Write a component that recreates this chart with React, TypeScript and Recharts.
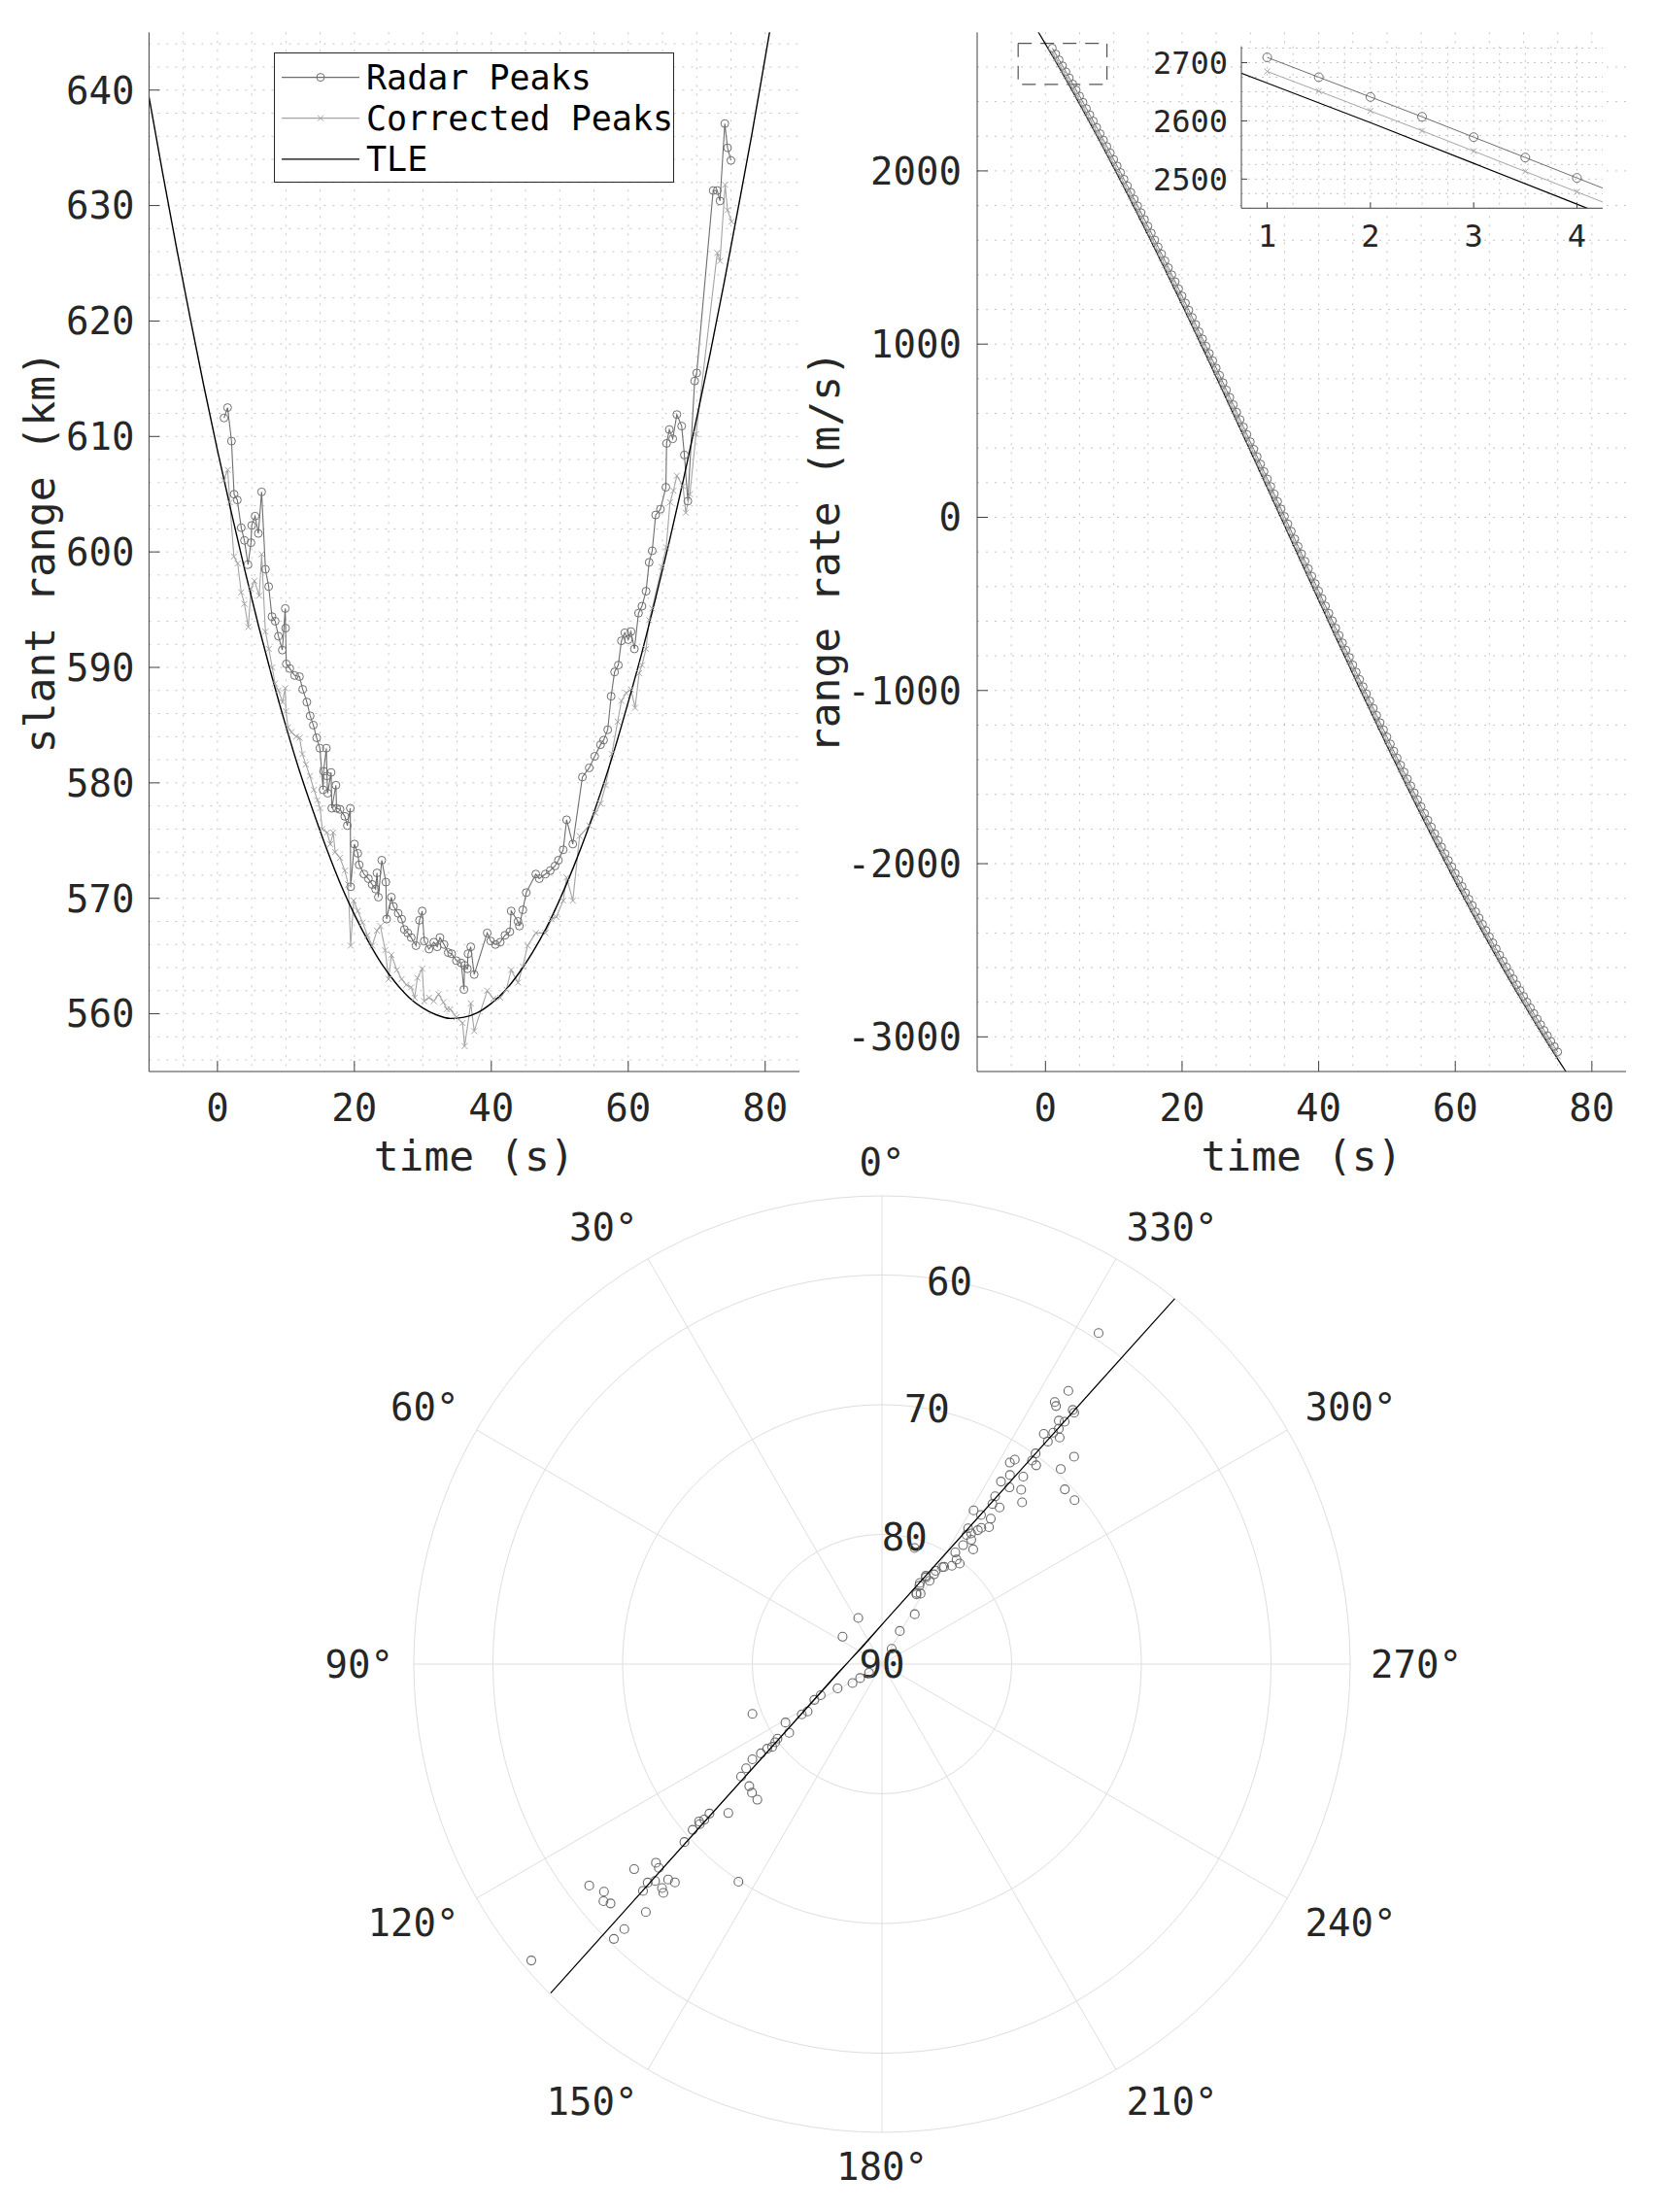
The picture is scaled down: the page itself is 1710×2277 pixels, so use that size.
import React from 'react'
import {
  LineChart, Line, XAxis, YAxis, CartesianGrid, Legend, ReferenceArea,
  RadarChart, Radar, PolarGrid, PolarAngleAxis, PolarRadiusAxis,
} from 'recharts'

const FONT = '"DejaVu Sans Mono", monospace'
const INK = '#262626'
const AXIS = '#404040'
const GRID = '#c4c4c4'
const RADAR_C = '#6e6e6e'
const CORR_C = '#a4a4a4'

// ---- slant range (km) ----
const radarT = [0.96,1.48,2.05,2.43,2.9,3.47,3.94,4.46,4.9,5.0,5.5,5.97,6.45,7.01,7.48,7.96,8.43,8.9,9.47,9.9,
  9.95,10.05,10.56,11.27,11.98,12.45,13.06,13.54,14.0,14.49,14.96,15.43,15.5,15.9,16.0,16.1,16.6,16.7,17.3,17.4,
  17.9,18.6,18.97,19.4,19.45,20.0,20.5,20.7,21.4,22.05,22.6,23.1,23.3,23.5,24.0,24.6,24.7,25.4,25.7,26.4,
  26.9,27.3,27.8,28.3,29.0,29.5,29.9,30.2,30.9,31.6,32.1,32.5,33.1,33.7,34.2,34.9,35.6,36.0,36.1,36.5,
  36.6,37.0,37.5,39.4,39.9,40.6,41.3,42.0,42.7,42.9,43.9,44.1,44.6,45.1,46.5,47.0,47.9,48.6,49.3,49.8,
  50.5,51.0,51.9,53.3,54.3,55.1,55.95,56.4,57.0,57.5,58.0,58.55,59.0,59.5,60.0,60.4,60.9,61.5,62.0,62.6,
  63.05,63.5,64.0,64.7,65.5,65.6,66.0,66.5,67.1,67.8,68.2,68.7,69.7,70.0,72.4,73.0,73.4,74.1,74.5,75.0]
const radarRange = [611.6,612.5,609.6,605.0,604.5,602.1,601.0,598.9,600.8,602.3,603.1,601.6,605.2,598.5,597.0,594.4,594.0,592.7,591.5,595.1,
  593.4,590.3,589.9,589.3,589.2,588.1,587.0,585.8,585.0,583.9,583.0,579.4,581.0,583.0,580.6,579.1,580.9,577.8,579.8,577.8,
  577.7,577.1,576.3,577.8,571.0,574.7,573.9,572.9,572.1,571.7,571.2,570.8,572.2,570.1,573.3,571.4,568.2,570.1,569.3,568.7,
  568.2,567.3,567.0,566.6,565.9,568.1,568.9,566.3,565.6,566.2,565.8,566.6,566.0,565.3,565.2,564.6,564.4,562.1,564.2,563.9,
  565.2,565.8,563.4,567.0,566.3,566.0,566.2,566.8,567.1,568.9,568.0,567.6,569.0,570.5,572.1,571.7,572.1,572.4,572.8,573.3,
  574.2,576.8,574.7,580.5,581.3,582.3,583.3,583.7,584.6,587.5,589.6,590.2,592.3,593.0,592.4,593.1,591.6,594.7,595.3,596.6,
  599.1,600.1,603.2,603.7,605.6,609.4,610.6,609.8,611.9,610.9,608.4,604.4,614.8,615.5,631.3,631.3,630.4,637.1,635.0,633.9]

const corrT = [0.9,1.5,1.8,2.4,2.95,3.47,3.94,4.5,4.9,5.4,6.1,6.45,7.0,7.5,8.0,8.4,8.9,9.5,9.9,10.0,
  10.3,10.8,11.5,12.0,12.4,12.9,13.5,14.1,14.6,15.0,15.3,16.0,16.5,16.9,17.2,17.9,18.6,19.1,19.45,19.9,
  20.5,21.2,21.9,22.6,23.3,23.8,24.5,25.0,25.4,26.2,26.9,27.6,28.3,28.8,29.2,29.9,30.2,30.9,31.6,32.3,
  33.0,33.5,34.0,34.9,35.8,36.1,37.0,37.5,39.4,40.3,41.3,42.2,42.9,43.9,44.6,45.3,46.5,47.9,48.8,49.5,
  50.5,51.0,51.9,52.9,54.3,55.2,55.95,56.7,57.6,58.45,59.0,59.7,60.4,61.0,61.6,62.0,62.6,63.05,63.5,64.9,
  65.55,66.1,66.6,67.1,68.0,68.4,69.0,69.9,73.0,73.4,74.15,74.5,75.1]
const corrRange = [606.2,607.1,604.3,599.6,599.0,596.5,595.5,593.5,596.8,597.5,596.2,599.8,593.1,591.6,590.0,588.6,588.0,587.0,588.2,586.2,
  584.8,584.4,584.0,583.9,582.5,581.6,580.6,579.4,578.5,577.8,576.0,575.7,574.7,575.7,574.0,573.5,572.4,571.2,565.9,569.8,
  568.9,567.9,566.8,565.9,567.2,567.6,565.5,563.0,565.1,563.8,563.0,562.5,562.3,561.4,563.1,563.9,561.1,561.4,561.1,561.7,
  561.0,560.4,560.4,559.7,559.2,557.2,560.9,558.5,562.0,561.3,561.4,562.1,563.8,562.7,564.1,565.9,567.0,567.0,568.2,568.4,
  569.8,571.8,569.8,575.4,576.3,577.4,578.2,579.8,582.5,585.3,587.1,587.8,588.1,586.5,589.5,590.2,591.6,594.1,595.1,598.7,
  600.4,604.3,605.3,606.6,605.7,603.4,605.0,610.2,625.9,625.2,631.8,629.6,628.6]

const tleT = [-10,-8,-6,-4,-2,0,2,4,6,8,10,12,14,16,18,20,22,24,26,28,30,32,34,36,38,40,42,44,46,48,
  50,52,54,56,58,60,62,64,66,68,70,72,74,76,78,80,82]
const tleRange = [639.4,632.8,626.4,620.3,614.4,608.8,603.5,598.4,593.6,589.1,584.9,581.0,577.5,574.2,571.2,568.6,566.3,564.3,562.7,561.4,
  560.5,559.9,559.6,559.7,560.1,560.9,562.0,563.5,565.3,567.4,569.9,572.7,575.8,579.2,582.9,587.0,591.3,596.0,600.9,606.1,
  611.6,617.3,623.3,629.6,636.0,642.8,649.7]

// ---- range rate (m/s) ----
const rrT = [1,1.5,2,2.5,3,3.5,4,4.5,5,5.5,6,6.5,7,7.5,8,8.5,9,9.5,10,10.5,
  11,11.5,12,12.5,13,13.5,14,14.5,15,15.5,16,16.5,17,17.5,18,18.5,19,19.5,20,20.5,
  21,21.5,22,22.5,23,23.5,24,24.5,25,25.5,26,26.5,27,27.5,28,28.5,29,29.5,30,30.5,
  31,31.5,32,32.5,33,33.5,34,34.5,35,35.5,36,36.5,37,37.5,38,38.5,39,39.5,40,40.5,
  41,41.5,42,42.5,43,43.5,44,44.5,45,45.5,46,46.5,47,47.5,48,48.5,49,49.5,50,50.5,
  51,51.5,52,52.5,53,53.5,54,54.5,55,55.5,56,56.5,57,57.5,58,58.5,59,59.5,60,60.5,
  61,61.5,62,62.5,63,63.5,64,64.5,65,65.5,66,66.5,67,67.5,68,68.5,69,69.5,70,70.5,
  71,71.5,72,72.5,73,73.5,74,74.5,75]
const rrRadar = [2709,2675,2641,2607,2572,2537,2502,2467,2432,2396,2360,2324,2288,2251,2215,2178,2141,2104,2066,2028,
  1991,1952,1914,1876,1837,1798,1759,1719,1681,1641,1601,1561,1521,1481,1441,1400,1360,1319,1278,1237,
  1196,1154,1113,1071,1030,988,946,904,862,820,777,735,692,650,607,564,521,478,436,393,
  350,307,264,221,178,134,91,48,5,-38,-81,-125,-168,-211,-254,-297,-340,-383,-426,-469,
  -512,-554,-597,-640,-682,-725,-767,-809,-852,-894,-936,-978,-1019,-1061,-1103,-1144,-1186,-1227,-1268,-1309,
  -1350,-1390,-1431,-1471,-1511,-1551,-1591,-1631,-1671,-1710,-1749,-1788,-1827,-1866,-1904,-1942,-1981,-2018,-2056,-2094,
  -2131,-2168,-2205,-2241,-2278,-2314,-2350,-2386,-2422,-2457,-2492,-2528,-2562,-2597,-2631,-2665,-2699,-2732,-2766,-2799,
  -2832,-2865,-2897,-2929,-2962,-2993,-3025,-3056,-3087]
const rrCorr = [2685,2651,2617,2583,2548,2513,2478,2443,2408,2372,2336,2300,2264,2227,2191,2154,2117,2080,2042,2004,
  1967,1928,1890,1852,1813,1774,1735,1695,1657,1617,1577,1537,1497,1457,1417,1376,1336,1295,1254,1213,
  1172,1130,1089,1047,1006,964,922,880,838,796,753,711,668,626,583,540,497,454,412,369,
  326,283,240,197,154,110,67,24,-19,-62,-105,-149,-192,-235,-278,-321,-364,-407,-450,-493,
  -536,-578,-621,-664,-706,-749,-791,-833,-876,-918,-960,-1002,-1043,-1085,-1127,-1168,-1210,-1251,-1292,-1333,
  -1374,-1414,-1455,-1495,-1535,-1575,-1615,-1655,-1695,-1734,-1773,-1812,-1851,-1890,-1928,-1966,-2005,-2042,-2080,-2118,
  -2155,-2192,-2229,-2265,-2302,-2338,-2374,-2410,-2446,-2481,-2516,-2552,-2586,-2621,-2655,-2689,-2723,-2756,-2790,-2823,
  -2856,-2889,-2921,-2953,-2986,-3017,-3049,-3080,-3111]
const rrTleT = [-2,-1,0,1,2,3,4,5,6,7,8,9,10,11,12,13,14,15,16,17,18,19,20,21,22,23,24,25,26,27,
  28,29,30,31,32,33,34,35,36,37,38,39,40,41,42,43,44,45,46,47,48,49,50,51,52,53,54,55,56,57,
  58,59,60,61,62,63,64,65,66,67,68,69,70,71,72,73,74,75,76,77]
const rrTle = [2865,2799,2732,2665,2597,2527,2457,2386,2314,2241,2168,2094,2018,1942,1866,1788,1710,1631,1551,1471,
  1390,1309,1227,1144,1061,978,894,809,725,640,554,469,383,297,211,125,38,-48,-135,-221,
  -307,-393,-479,-564,-650,-735,-819,-904,-988,-1071,-1154,-1237,-1319,-1400,-1481,-1561,-1641,-1720,-1798,-1876,
  -1952,-2028,-2104,-2178,-2251,-2324,-2396,-2467,-2537,-2607,-2675,-2742,-2809,-2875,-2939,-3003,-3066,-3128,-3189,-3250]

// ---- sky track (azimuth / elevation, deg) ----
const peakAz = [326.8,325.7,326.6,326.0,323.1,322.6,324.0,323.0,323.1,324.9,323.5,321.9,323.3,323.9,317.2,323.6,322.2,317.5,327.6,327.0,
  325.9,323.0,326.9,324.2,321.4,313.7,319.1,310.4,326.0,325.4,323.1,329.2,326.4,323.2,322.0,324.4,327.6,326.8,324.3,321.5,
  326.7,344.3,322.3,324.6,327.4,330.1,333.6,335.0,334.2,328.1,333.2,334.5,333.7,326.7,331.7,327.7,27.2,55.2,123.8,122.6,
  122.7,118.6,122.5,122.1,121.2,111.0,126.2,126.4,126.4,126.3,127.5,128.6,132.6,134.7,137.4,134.1,130.9,130.7,131.2,132.0,
  131.3,132.4,129.6,133.0,133.7,133.5,135.5,135.2,136.5,136.3,146.6,136.4,127.1,129.3,130.4,131.4,135.8,135.7,130.2,
  323.9,325.7,325.7,324.5,329.9,330.3,331.3,125.5,126.5,127.0,131.3,131.2,116.9,117.9]
const peakEl = [59.5,64.5,65.8,66.0,65.5,65.6,66.8,66.6,67.3,68.3,67.8,67.8,68.6,69.9,68.2,70.5,70.6,69.6,71.6,71.2,
  72.4,71.9,73.2,73.2,72.8,70.5,73.5,70.5,74.4,75.0,74.9,76.2,76.2,76.0,76.6,77.3,77.6,78.1,78.2,78.7,
  79.7,80.7,80.2,80.7,81.1,81.7,82.4,83.1,83.9,81.2,82.5,83.3,84.0,85.4,87.1,88.6,86.0,86.3,88.8,88.0,
  87.3,86.1,83.2,82.7,81.3,79.3,79.8,79.0,78.4,77.6,76.8,76.1,76.1,75.9,75.8,73.5,72.4,71.4,70.6,69.5,
  66.8,66.7,65.2,65.3,65.8,64.6,65.8,66.6,66.8,65.6,69.9,63.6,61.7,62.3,61.8,62.1,61.5,60.4,54.6,
  77.0,77.8,78.9,80.1,82.0,82.6,83.8,80.1,81.1,79.4,71.3,71.8,84.7,84.1]
const tleAz = [321.3,322.4,324.5,330.8,351.6,48.1,102.8,125.0,131.5,133.7,134.8]
const tleEl = [53.9,62.9,71.8,80.7,86.3,88.0,86.4,80.9,72.0,63.0,54.0]

// ---- ticks / grid values ----
const timeTicks = [0, 20, 40, 60, 80]
const timeMinor = [-5,0,5,10,15,20,25,30,35,40,45,50,55,60,65,70,75,80]
const rangeTicks = [560, 570, 580, 590, 600, 610, 620, 630, 640]
const rangeMinor = [556,558,560,562,564,566,568,570,572,574,576,578,580,582,584,586,588,590,592,594,596,598,600,
  602,604,606,608,610,612,614,616,618,620,622,624,626,628,630,632,634,636,638,640,642,644]
const rateTicks = [-3000, -2000, -1000, 0, 1000, 2000]
const rateMinor = [-3000,-2800,-2600,-2400,-2200,-2000,-1800,-1600,-1400,-1200,-1000,-800,-600,-400,-200,0,
  200,400,600,800,1000,1200,1400,1600,1800,2000,2200,2400,2600]
const insetXTicks = [1, 2, 3, 4]
const insetXMinor = [1,1.25,1.5,1.75,2,2.25,2.5,2.75,3,3.25,3.5,3.75,4]
const insetYTicks = [2500, 2600, 2700]
const insetYMinor = [2475,2500,2525,2550,2575,2600,2625,2650,2675,2700,2725]
const angleTicks = [0, 30, 60, 90, 120, 150, 180, 210, 240, 270, 300, 330]
const zenTicks = [0, 10, 20, 30, 36.1]
const zenMax = 36.1
const zoomBox = { x1: -4, x2: 9, y1: 2500, y2: 2737 }
const legendOrder = ['Radar Peaks', 'Corrected Peaks', 'TLE']

const rows = (ts: number[], vs: number[]) => ts.map((t, i) => ({ t, v: vs[i] }))
const slantRadar = rows(radarT, radarRange)
const slantCorr = rows(corrT, corrRange)
const slantTle = rows(tleT, tleRange)
const rateRadar = rows(rrT, rrRadar)
const rateCorr = rows(rrT, rrCorr)
const rateTle = rows(rrTleT, rrTle)
const insetRadar = rateRadar.filter(d => d.t <= 4.5)
const insetCorr = rateCorr.filter(d => d.t <= 4.5)
const insetTle = rateTle.filter(d => d.t >= 0 && d.t <= 5)
const skyPeaks = peakAz.map((az, i) => ({ az, zen: 90 - peakEl[i] }))
const skyTle = tleAz.map((az, i) => ({ az, zen: 90 - tleEl[i] }))

const tickFont = { fill: INK, fontSize: 39, fontFamily: FONT }
const insetFont = { fill: INK, fontSize: 32, fontFamily: FONT }
const circleDot = { r: 4, stroke: RADAR_C, strokeWidth: 1, fill: 'none' }

function XMark(props: any) {
  const { cx, cy } = props
  if (cx == null || cy == null || isNaN(cx) || isNaN(cy)) return null
  const s = 3
  return <path d={`M${cx - s},${cy - s}L${cx + s},${cy + s}M${cx - s},${cy + s}L${cx + s},${cy - s}`}
    stroke={CORR_C} strokeWidth={1} fill="none" />
}

function AxisTitle(props: any) {
  const { viewBox, caption, gap, rot } = props
  if (!viewBox) return null
  const { x, y, width, height } = viewBox
  const cx = rot ? x + gap : x + width / 2
  const cy = rot ? y + height / 2 : y + gap
  return (
    <text x={cx} y={cy} textAnchor="middle" dominantBaseline="central"
      transform={rot ? `rotate(-90 ${cx} ${cy})` : undefined}
      fontSize={43} fontFamily={FONT} fill={INK}>{caption}</text>
  )
}

const legendLook: Record<string, { stroke: string; mark: string }> = {
  'Radar Peaks': { stroke: RADAR_C, mark: 'o' },
  'Corrected Peaks': { stroke: CORR_C, mark: 'x' },
  TLE: { stroke: '#000', mark: '' },
}

function LegendBox(props: any) {
  const names = (props.payload || []).map((it: any) => it.value)
  const items = legendOrder.filter(n => names.includes(n))
  return (
    <svg width={412} height={134} style={{ display: 'block' }}>
      <rect x={0.5} y={0.5} width={411} height={133} fill="#fff" stroke={INK} strokeWidth={1} />
      {items.map((name, i) => {
        const look = legendLook[name]
        const y = 25.6 + i * 42.1
        return (
          <g key={name}>
            <line x1={8} x2={88} y1={y} y2={y} stroke={look.stroke} strokeWidth={1.2} />
            {look.mark === 'o' && <circle cx={48} cy={y} r={4} stroke={RADAR_C} fill="none" />}
            {look.mark === 'x' && <XMark cx={48} cy={y} />}
            <text x={95} y={y} dy="0.36em" fontSize={35} fontFamily={FONT} fill="#000">{name}</text>
          </g>
        )
      })}
    </svg>
  )
}

function AngleTick(props: any) {
  const { x, y, payload } = props
  const a = (payload.coordinate * Math.PI) / 180
  const c = Math.cos(a)
  const s = Math.sin(a)
  const anchor = Math.abs(c) < 0.05 ? 'middle' : c > 0 ? 'start' : 'end'
  const dy = s > 0.05 ? '0' : s < -0.05 ? '0.73em' : '0.36em'
  return <text x={x} y={y} dy={dy} textAnchor={anchor} fontSize={39} fontFamily={FONT} fill={INK}>{`${payload.value}°`}</text>
}

function RingTick(props: any) {
  const { x, y, payload } = props
  if (payload.value > 35) return <g />
  return <text x={x} y={y} dy="0.36em" textAnchor="middle" fontSize={39} fontFamily={FONT} fill={INK}>{90 - payload.value}</text>
}

export default function App() {
  return (
    <div style={{ position: 'absolute', left: 0, top: 0, width: 1710, height: 2277, background: '#fff' }}>
      {/* slant range */}
      <div style={{ position: 'absolute', left: 0, top: 0 }}>
        <LineChart width={850} height={1230} margin={{ top: 33.3, right: 27, bottom: 17, left: 0 }}>
          <CartesianGrid stroke={GRID} strokeDasharray="2 7" verticalValues={timeMinor} horizontalValues={rangeMinor} />
          <XAxis type="number" dataKey="t" domain={[-10, 85]} ticks={timeTicks} interval={0} allowDataOverflow
            height={110} tickSize={-11} tickMargin={34} stroke={AXIS} tick={tickFont}
            label={<AxisTitle caption="time (s)" gap={87} />} />
          <YAxis type="number" domain={[555, 645]} ticks={rangeTicks} interval={0} allowDataOverflow
            width={153.4} tickSize={-11} tickMargin={26} stroke={AXIS} tick={tickFont}
            label={<AxisTitle caption="slant range (km)" gap={40.6} rot />} />
          <Line data={slantRadar} dataKey="v" name="Radar Peaks" stroke={RADAR_C} strokeWidth={1.1}
            dot={circleDot} activeDot={false} isAnimationActive={false} />
          <Line data={slantCorr} dataKey="v" name="Corrected Peaks" stroke={CORR_C} strokeWidth={1.1}
            dot={<XMark />} activeDot={false} isAnimationActive={false} />
          <Line data={slantTle} dataKey="v" name="TLE" type="monotone" stroke="#000" strokeWidth={1.4}
            dot={false} activeDot={false} isAnimationActive={false} />
          <Legend layout="vertical" verticalAlign="middle" align="center" content={<LegendBox />}
            wrapperStyle={{ left: 281.6, top: 53.7, width: 412, height: 134 }} />
        </LineChart>
      </div>

      {/* range rate */}
      <div style={{ position: 'absolute', left: 820, top: 0 }}>
        <LineChart width={885} height={1230} margin={{ top: 33.3, right: 31, bottom: 17, left: 0 }}>
          <CartesianGrid stroke={GRID} strokeDasharray="2 7" verticalValues={timeMinor} horizontalValues={rateMinor} />
          <XAxis type="number" dataKey="t" domain={[-10, 85]} ticks={timeTicks} interval={0} allowDataOverflow
            height={110} tickSize={-11} tickMargin={34} stroke={AXIS} tick={tickFont}
            label={<AxisTitle caption="time (s)" gap={87} />} />
          <YAxis type="number" domain={[-3200, 2800]} ticks={rateTicks} interval={0} allowDataOverflow
            width={186} tickSize={-11} tickMargin={27} stroke={AXIS} tick={tickFont}
            label={<AxisTitle caption="range rate (m/s)" gap={29} rot />} />
          <ReferenceArea {...zoomBox} fill="none" stroke="#555" strokeWidth={1.2} strokeDasharray="14 9" ifOverflow="visible" />
          <Line data={rateRadar} dataKey="v" stroke={RADAR_C} strokeWidth={1} dot={circleDot}
            activeDot={false} isAnimationActive={false} />
          <Line data={rateCorr} dataKey="v" stroke={CORR_C} strokeWidth={1} dot={<XMark />}
            activeDot={false} isAnimationActive={false} />
          <Line data={rateTle} dataKey="v" type="monotone" stroke="#000" strokeWidth={1.2}
            dot={false} activeDot={false} isAnimationActive={false} />
        </LineChart>
      </div>

      {/* zoomed inset */}
      <div style={{ position: 'absolute', left: 1180, top: 30 }}>
        <LineChart width={480} height={260} margin={{ top: 17.7, right: 10, bottom: 30, left: 0 }}>
          <CartesianGrid stroke={GRID} strokeDasharray="2 5" fill="#fff" fillOpacity={1}
            verticalValues={insetXMinor} horizontalValues={insetYMinor} />
          <XAxis type="number" dataKey="t" domain={[0.75, 4.25]} ticks={insetXTicks} interval={0} allowDataOverflow
            height={45.7} tickSize={-6} tickMargin={23} stroke={AXIS} tick={insetFont} />
          <XAxis xAxisId="top" orientation="top" type="number" domain={[0.75, 4.25]} ticks={insetXTicks}
            height={0} tickSize={-6} tickFormatter={() => ''} stroke={AXIS} />
          <YAxis type="number" domain={[2450, 2728]} ticks={insetYTicks} interval={0} allowDataOverflow
            width={98} tickSize={-6} tickMargin={20} stroke={AXIS} tick={insetFont} />
          <YAxis yAxisId="right" orientation="right" type="number" domain={[2450, 2728]} ticks={insetYTicks}
            width={0} tickSize={-6} tickFormatter={() => ''} stroke={AXIS} />
          <Line data={insetRadar} dataKey="v" stroke={RADAR_C} strokeWidth={1} dot={{ ...circleDot, r: 4.5 }}
            activeDot={false} isAnimationActive={false} />
          <Line data={insetCorr} dataKey="v" stroke={CORR_C} strokeWidth={1} dot={<XMark />}
            activeDot={false} isAnimationActive={false} />
          <Line data={insetTle} dataKey="v" stroke="#000" strokeWidth={1.2}
            dot={false} activeDot={false} isAnimationActive={false} />
        </LineChart>
      </div>

      {/* sky plot: grid + radar peaks */}
      <div style={{ position: 'absolute', left: 308, top: 1153 }}>
        <RadarChart width={1200} height={1120} cx={600} cy={560} outerRadius={482}
          startAngle={90} endAngle={450} data={skyPeaks} margin={{ top: 0, right: 0, bottom: 0, left: 0 }}>
          <PolarGrid gridType="circle" stroke="#dedede" />
          <PolarAngleAxis dataKey="az" type="number" domain={[0, 360]} ticks={angleTicks}
            tickSize={21} tickLine={false} axisLine={false} tick={<AngleTick />} />
          <PolarRadiusAxis type="number" angle={80} domain={[0, zenMax]} ticks={zenTicks}
            axisLine={false} tick={<RingTick />} />
          <Radar dataKey="zen" stroke="none" fill="none" fillOpacity={0}
            dot={{ r: 4.5, stroke: '#6a6a6a', strokeWidth: 1.1, fill: 'none' }} isAnimationActive={false} />
        </RadarChart>
      </div>

      {/* sky plot: TLE pass */}
      <div style={{ position: 'absolute', left: 308, top: 1153 }}>
        <RadarChart width={1200} height={1120} cx={600} cy={560} outerRadius={482}
          startAngle={90} endAngle={450} data={skyTle} margin={{ top: 0, right: 0, bottom: 0, left: 0 }}>
          <PolarAngleAxis dataKey="az" type="number" domain={[0, 360]} ticks={angleTicks}
            tick={false} tickLine={false} axisLine={false} />
          <PolarRadiusAxis type="number" domain={[0, zenMax]} ticks={zenTicks} tick={false} axisLine={false} />
          <Radar dataKey="zen" stroke="#000" strokeWidth={1.2} fill="none" fillOpacity={0}
            dot={false} isAnimationActive={false} />
        </RadarChart>
      </div>
    </div>
  )
}
